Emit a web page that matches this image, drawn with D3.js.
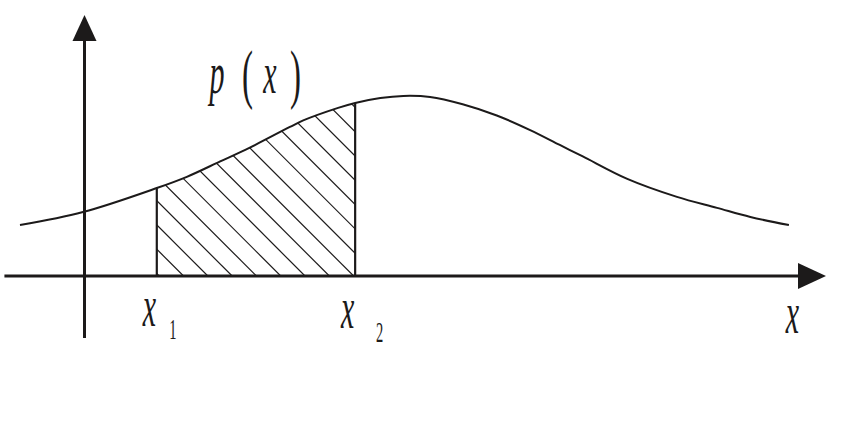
<!DOCTYPE html>
<html>
<head>
<meta charset="utf-8">
<script src="https://cdn.jsdelivr.net/npm/d3@7"></script>
<style>
  html, body { margin: 0; padding: 0; background: #fff; }
  svg { display: block; }
</style>
</head>
<body>
<svg id="chart" width="848" height="424"></svg>
<script>
// ---- data ----
const curveX = [-8.7, -0.2, 9.75, 13.8, 18.3, 22.3, 27.7, 29.5, 34.2, 36.5, 39.9, 43.0, 46.6, 51.0, 55.6, 60.1, 64.1, 67.2, 73.2, 79.9, 85.3, 89.8, 95.0];
const curveY = [19.5, 24.5, 33.7, 38.0, 43.9, 49.2, 57.1, 59.6, 64.4, 66.3, 68.2, 69.0, 68.6, 65.8, 61.5, 55.9, 50.2, 45.8, 37.2, 30.3, 26.1, 22.6, 19.5];
const boundsX = [9.75, 36.5];          // x1, x2
const boundLabels = ["1", "2"];         // subscripts
const axisXRange = [-10.8, 100];        // horizontal axis extent
const axisYRange = [-23.75, 100];       // vertical axis extent
const curveLabel = ["p", "(", "x", ")"];
const axisLabel = "x";

const svg = d3.select("#chart");
const ink = "#1c1a1a";

const xScale = d3.scaleLinear().domain([0, 100]).range([84.5, 826]);
const yScale = d3.scaleLinear().domain([0, 100]).range([276, 15]);

const pts = curveX.map((x, i) => ({ x, y: curveY[i] }));
const yAt = v => {
  const i = curveX.findIndex(d => Math.abs(d - v) < 1e-9);
  return curveY[i];
};

// ---- hatched area between x1 and x2 ----
const defs = svg.append("defs");
defs.append("clipPath").attr("id", "under")
  .append("path")
  .attr("d", d3.area().curve(d3.curveCatmullRom)
    .x(d => xScale(d.x)).y0(yScale(0)).y1(d => yScale(d.y))(pts));
defs.append("clipPath").attr("id", "band")
  .append("rect")
  .attr("x", xScale(boundsX[0])).attr("y", 0)
  .attr("width", xScale(boundsX[1]) - xScale(boundsX[0]))
  .attr("height", yScale(0));

const hatchStep = 24.3;
const anchor = xScale(boundsX[1]) - 1.5;
const hatchStarts = d3.range(-8, 9).map(k => anchor + k * hatchStep);
svg.append("g").attr("clip-path", "url(#band)")
  .append("g").attr("clip-path", "url(#under)")
  .selectAll("line").data(hatchStarts).join("line")
  .attr("x1", d => d).attr("y1", yScale(0))
  .attr("x2", d => d - 300).attr("y2", yScale(0) - 300)
  .attr("stroke", ink).attr("stroke-width", 1.2);

// ---- vertical bounds ----
svg.append("g").selectAll("line").data(boundsX).join("line")
  .attr("x1", d => xScale(d)).attr("x2", d => xScale(d))
  .attr("y1", yScale(0)).attr("y2", d => yScale(yAt(d)))
  .attr("stroke", ink).attr("stroke-width", 2.2);

// ---- curve ----
svg.append("path")
  .attr("d", d3.line().curve(d3.curveCatmullRom)
    .x(d => xScale(d.x)).y(d => yScale(d.y))(pts))
  .attr("fill", "none").attr("stroke", ink).attr("stroke-width", 2);

// ---- axes ----
const ax = svg.append("g");
const xTip = xScale(axisXRange[1]);
ax.append("line")
  .attr("x1", xScale(axisXRange[0])).attr("x2", xTip - 26)
  .attr("y1", yScale(0)).attr("y2", yScale(0))
  .attr("stroke", ink).attr("stroke-width", 3);
ax.append("path")
  .attr("d", `M${xTip},${yScale(0)} L${xTip - 28},${yScale(0) - 13} L${xTip - 28},${yScale(0) + 13} Z`)
  .attr("fill", ink);
const yTip = yScale(axisYRange[1]);
ax.append("line")
  .attr("x1", xScale(0)).attr("x2", xScale(0))
  .attr("y1", yScale(axisYRange[0])).attr("y2", yTip + 24)
  .attr("stroke", ink).attr("stroke-width", 3);
ax.append("path")
  .attr("d", `M${xScale(0)},${yTip} L${xScale(0) - 12},${yTip + 26} L${xScale(0) + 12},${yTip + 26} Z`)
  .attr("fill", ink);

// ---- labels (narrow, tall serif like the original equation art) ----
function glyph(txt, cx, base, size, italic) {
  svg.append("g").attr("transform", `translate(${cx},${base}) scale(0.5,1)`)
    .append("text")
    .attr("text-anchor", "middle")
    .attr("font-family", "'Liberation Serif', 'Times New Roman', serif")
    .attr("font-style", italic ? "italic" : "normal")
    .attr("font-size", size)
    .attr("fill", ink)
    .text(txt);
}
const pxCenters = [217, 247.5, 270, 295.5];
const pxBase = [93, 96, 93, 96];
const pxSize = [60, 66, 60, 66];
curveLabel.forEach((t, i) => glyph(t, pxCenters[i], pxBase[i], pxSize[i], t === "p" || t === "x"));

boundsX.forEach((b, i) => {
  const cx = xScale(b);
  glyph("x", cx - 7.5, 326 + i * 2, 60, true);
  glyph(boundLabels[i], cx + 16 + i * 8.5, 339 + i * 3, 29, false);
});
glyph(axisLabel, 792.5, 333, 60, true);
</script>
</body>
</html>
